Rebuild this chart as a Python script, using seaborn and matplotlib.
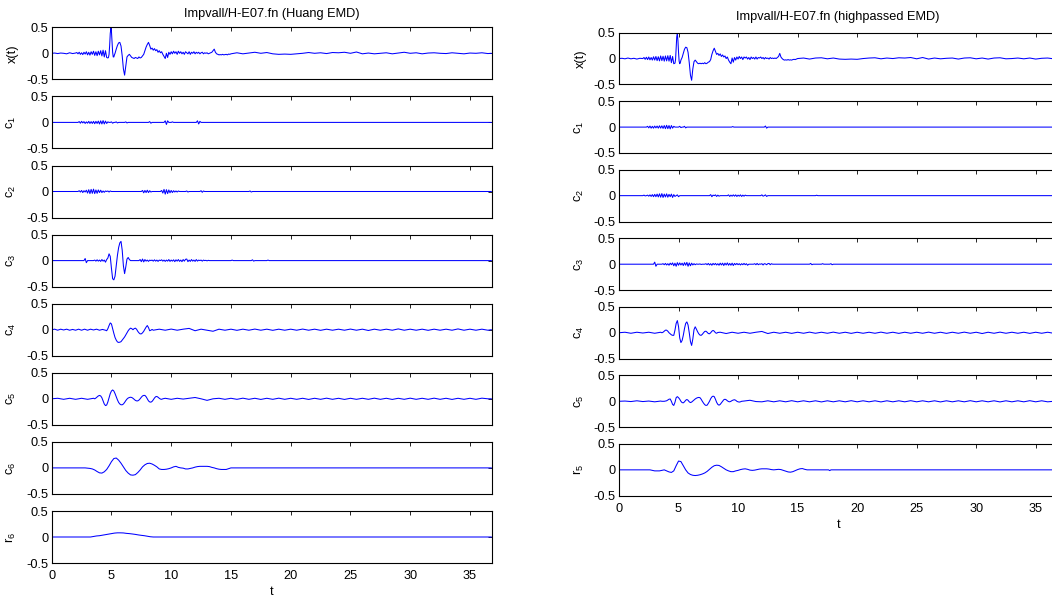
import numpy as np
import matplotlib
matplotlib.use("Agg")
import matplotlib.pyplot as plt
import seaborn as sns

# ---------------- data (time in s, amplitude) ----------------
# each series: list of segments (t_start, dt, values)
T_END = 36.82
x_ticks = [0, 5, 10, 15, 20, 25, 30, 35]
y_ticks = [-0.5, 0, 0.5]
y_ticklabels = ["-0.5", "0", "0.5"]

title_left = "Impvall/H-E07.fn (Huang EMD)"
title_right = "Impvall/H-E07.fn (highpassed EMD)"
labels_left = ["x(t)", "c1", "c2", "c3", "c4", "c5", "c6", "r6"]
labels_right = ["x(t)", "c1", "c2", "c3", "c4", "c5", "r5"]

xt_huang = [
    (0.0, 0.25, [0, 0.005, -0.005, 0.005, 0, -0.01, 0.01, -0.005, 0.005]),
    (2.1, 0.1, [0.015, -0.01, 0.02, -0.02, 0.01, -0.025, 0.02, -0.015, 0.03, -0.03,
                0.02, -0.035, 0.03, -0.02, 0.04, -0.04, 0.03, -0.045, 0.04, -0.03,
                0.05, -0.05, 0.06, -0.07, 0.05, -0.08, -0.09]),
    (4.75, 0.05, [-0.08, -0.02, 0.15, 0.38, 0.48, 0.42, 0.22, 0.02, -0.07, -0.07, -0.03]),
    (5.3, 0.1, [0.0, 0.08, 0.15, 0.2, 0.21, 0.14, -0.05,
                -0.3, -0.42, -0.24, -0.07, -0.04, -0.02, -0.05, -0.08, -0.09, -0.1,
                -0.08, -0.09, -0.1, -0.07, -0.09, -0.08, -0.05, -0.02, 0.05, 0.12,
                0.17, 0.21, 0.15, 0.08, 0.1, 0.06, 0.09, 0.05, 0.07, 0.02,
                0.05, 0.01, 0.03, -0.02, -0.06, -0.1, 0.0, -0.08, 0.02, -0.02,
                0.03, -0.01, 0.04, 0.0, 0.03, -0.02, 0.04, 0.0, 0.03, -0.01,
                0.02, -0.02, 0.03, 0.01, -0.01, 0.03, -0.02, 0.02, 0.0, 0.03,
                -0.01, 0.02, 0.0, 0.02, -0.01, 0.01, 0.02, -0.01, 0.01, 0.0,
                0.01, -0.01, 0.0, 0.01, 0.02, 0.05, 0.08, 0.02, -0.01, -0.02,
                -0.03, -0.025, -0.03, -0.02, -0.03, -0.025, -0.02, -0.03, -0.015, -0.02, -0.01]),
    (15.5, 0.5, [0.01, -0.01, 0.005, 0.02, 0.0, 0.015, -0.01, -0.02, -0.015, -0.02,
                 -0.01, 0.0, 0.015, 0.0, 0.01, -0.005, 0.015, 0.01, 0.02, 0.0,
                 0.025, -0.01, 0.005, -0.01, 0.0, 0.01, -0.01, 0.005, 0.02, 0.0,
                 0.01, -0.01, 0.005, 0.01, 0.0, -0.005, 0.01, 0.0, -0.01, 0.005,
                 0.0, 0.01, -0.005]),
    (36.8, 0.1, [0.0]),
]

c1_huang = [
    (0.0, 2.2, [0, 0]),
    (2.3, 0.1, [0.015, -0.015, 0.02, -0.01, 0.015, -0.02, 0.01, -0.015, 0.02, -0.02,
                0.015, -0.02, 0.02, -0.025, 0.02, -0.02, 0.025, -0.03, 0.03, -0.03,
                0.035, -0.03, 0.025, -0.02, 0.01, 0, 0, 0.01, -0.015, 0,
                0, 0.01, -0.01, 0, 0, 0, 0, 0, 0, 0.01, -0.01, 0]),
    (8.1, 0.1, [0, 0.015, -0.015, 0]),
    (9.4, 0.1, [0, 0.03, -0.04, 0.03, 0]),
    (10.0, 0.1, [0, 0.01, 0]),
    (12.1, 0.1, [0, 0.03, -0.03, 0.02, 0]),
    (36.8, 0.1, [0.0]),
]

c2_huang = [
    (0.0, 2.2, [0, 0]),
    (2.3, 0.1, [0.015, -0.01, 0.02, -0.02, 0.015, -0.01, 0.025, -0.03, 0.035, -0.04,
                0.04, -0.035, 0.045, -0.04, 0.03, -0.035, 0.03, -0.02, 0.025, -0.02,
                0.01, -0.015, 0.01, 0, 0.01, -0.01, 0.01, 0]),
    (7.5, 0.1, [0, 0.02, -0.025, 0.02, -0.02, 0.025, -0.02, 0.015, -0.01, 0]),
    (9.1, 0.1, [0, 0.02, -0.03, 0.04, -0.05, 0.035, -0.04, 0.03, -0.025, 0.02,
                -0.02, 0.015, -0.01, 0.01, -0.01, 0.01, 0]),
    (11.2, 0.1, [0, 0.01, -0.01, 0]),
    (12.4, 0.1, [0, 0.015, -0.015, 0.01, 0]),
    (16.5, 0.1, [0, 0.01, -0.01, 0]),
    (36.8, 0.1, [0.0]),
]

c3_huang = [
    (0.0, 2.7, [0, 0]),
    (2.8, 0.1, [0.04, -0.04, 0.0]),
    (3.5, 0.1, [0, 0.01, -0.01, 0.015, -0.01, 0.01, -0.015, 0.02, -0.01, 0.01,
                -0.03, 0.02, 0.05, 0.13, 0.08, -0.15, -0.35, -0.37, -0.3, -0.1,
                0.1, 0.25, 0.34, 0.37, 0.2, -0.1, -0.25, -0.12, 0.03, 0.06,
                0.02, 0.0]),
    (7.3, 0.1, [0, 0.02, -0.02, 0.03, -0.025, 0.02, -0.01, 0.01, -0.015, 0.01,
                0, 0.01, -0.01, 0.015, -0.01, 0.01, -0.015, 0.01, 0, 0.015,
                -0.01, 0.01, -0.015, 0.01, -0.01, 0.02, -0.015, 0.01, -0.01, 0.015,
                -0.02, 0.015, -0.01, 0.02, -0.015, 0.01, -0.02, 0.02, -0.01, 0.025,
                0.03, -0.02, 0.01, -0.015, 0.02, -0.01, 0.01, -0.015, 0.02, -0.01,
                0.01, 0, 0.01, -0.01, 0.01, 0, 0.005, -0.005, 0.005, 0, 0]),
    (15.0, 0.1, [0, 0.01, 0]),
    (16.7, 0.1, [0, 0.015, -0.01, 0]),
    (18.0, 0.1, [0, 0.01, 0]),
    (36.8, 0.1, [0.0]),
]

c4_huang = [
    (0.0, 0.25, [0, 0.01, -0.01, 0.01, -0.005, 0.01, -0.01, 0.005, -0.01, 0.01,
                 -0.01, 0.01, -0.01, 0.01, -0.005, 0.01, -0.01, 0.005, -0.01]),
    (4.6, 0.1, [-0.02, 0.02, 0.08, 0.13, 0.11, 0.02, -0.07, -0.15, -0.2, -0.235,
                -0.245, -0.24, -0.23, -0.2, -0.17, -0.14, -0.1, -0.06, -0.02, 0.01,
                0.03, 0.02, 0.0, 0.02, 0.03, 0.01, -0.03, -0.06, -0.08, -0.08,
                -0.06, -0.03, 0.01, 0.05, 0.08, 0.04, -0.02, -0.01, 0.005]),
    (8.5, 0.5, [-0.01, 0.01, -0.01, 0.012, -0.01, 0.01, 0.025, -0.02, 0.01, -0.01,
                -0.03, 0.01, -0.01, 0.01, -0.012, 0.01, -0.01, 0.012, -0.01, 0.01,
                -0.012, 0.01, -0.01, 0.01, -0.01, 0.012, -0.01, 0.01, -0.012, 0.01,
                -0.01, 0.01, -0.01, 0.012, -0.01, 0.01, -0.015, 0.01, -0.01, 0.01,
                -0.01, 0.015, -0.01, 0.01, -0.01, 0.01, -0.012, 0.01, -0.01, 0.01,
                -0.01, 0.015, -0.01, 0.01, -0.01, 0.01, -0.01]),
    (36.8, 0.1, [0.0]),
]

c5_huang = [
    (0.0, 0.5, [0, 0.01, -0.01, 0.01, -0.01, 0.01, -0.01, 0.01]),
    (3.6, 0.1, [0.0, 0.015, 0.035, 0.055, 0.065, 0.055, 0.02, -0.04, -0.1, -0.13,
                -0.12, -0.06, 0.02, 0.1, 0.15, 0.17, 0.15, 0.1, 0.04, -0.02,
                -0.07, -0.1, -0.115, -0.115, -0.1, -0.07, -0.035, -0.005, 0.015, 0.025,
                0.03, 0.025, 0.01, -0.01, -0.03, -0.04, -0.04, -0.025, 0.0, 0.03,
                0.055, 0.065, 0.065, 0.04, 0.0, -0.04, -0.06, -0.065, -0.05, -0.02,
                0.015, 0.04, 0.045, 0.03, 0.01, -0.005, -0.01, 0.0]),
    (9.5, 0.5, [0.01, -0.01, 0.01, -0.005, 0.01, 0.025, 0.0, -0.03, 0.0, 0.01,
                -0.01, 0.01, -0.01, 0.012, -0.01, 0.01, -0.012, 0.01, -0.01, 0.012,
                -0.01, 0.01, -0.01, 0.01, -0.012, 0.01, -0.01, 0.012, -0.01, 0.01,
                -0.012, 0.01, -0.01, 0.01, -0.01, 0.012, -0.01, 0.01, -0.012, 0.01,
                -0.01, 0.012, -0.01, 0.01, -0.01, 0.012, -0.01, 0.01, -0.012, 0.01,
                -0.01, 0.01, -0.01, 0.012, 0.0]),
    (36.8, 0.1, [0.0]),
]

c6_huang = [
    (0.0, 2.6, [0, 0]),
    (2.8, 0.2, [0, -0.005, -0.01, -0.02, -0.04, -0.07, -0.095, -0.1, -0.075, -0.03,
                0.04, 0.12, 0.18, 0.19, 0.15, 0.09, 0.02, -0.05, -0.1, -0.135,
                -0.14, -0.13, -0.09, -0.04, 0.02, 0.06, 0.085, 0.09, 0.075, 0.05,
                0.02, -0.02, -0.03, -0.03, -0.025, -0.015, 0.0, 0.02, 0.03, 0.01,
                0.0, -0.005, -0.02, -0.02, -0.01, 0.0, 0.015, 0.025, 0.03, 0.03,
                0.03, 0.03, 0.025, 0.01, 0.0, -0.015, -0.025, -0.03, -0.03, -0.03,
                -0.015, 0.0]),
    (36.8, 0.1, [0.0]),
]

r6_huang = [
    (0.0, 3.0, [0, 0]),
    (3.25, 0.25, [0.0, 0.01, 0.02, 0.025, 0.035, 0.045, 0.055, 0.065, 0.075, 0.08,
                  0.08, 0.078, 0.07, 0.065, 0.058, 0.05, 0.04, 0.032, 0.025, 0.015,
                  0.005, 0.0]),
    (36.8, 0.1, [0.0]),
]

xt_high = [
    (0.0, 0.25, [0, 0.005, -0.005, 0.01, -0.005, 0.005, -0.01, 0.005, 0.0]),
    (2.1, 0.1, [0.02, -0.015, 0.025, -0.02, 0.03, -0.025, 0.02, -0.03, 0.035, -0.03,
                0.04, -0.04, 0.035, -0.045, 0.05, -0.04, 0.045, -0.05, 0.05, -0.045,
                0.055, -0.05, 0.06, -0.08, 0.04, -0.1]),
    (4.7, 0.05, [-0.09, -0.02, 0.2, 0.42, 0.48, 0.35, 0.12, -0.05, -0.1, -0.08, -0.03]),
    (5.3, 0.1, [0.02, 0.1, 0.18, 0.22, 0.21, 0.12, -0.08,
                -0.32, -0.42, -0.2, -0.06, -0.03, -0.06, -0.09, -0.1, -0.09, -0.1,
                -0.09, -0.1, -0.08, -0.1, -0.09, -0.07, -0.06, -0.02, 0.08, 0.15,
                0.2, 0.14, 0.08, 0.1, 0.06, 0.09, 0.04, 0.07, 0.03, 0.05,
                0.0, 0.03, -0.03, -0.07, -0.1, 0.01, -0.07, 0.02, -0.03, 0.03,
                -0.01, 0.04, 0.0, 0.03, -0.02, 0.03, 0.01, 0.03, -0.01, 0.02,
                -0.02, 0.03, 0.0, 0.02, -0.01, 0.03, -0.01, 0.02, 0.01, 0.03,
                0.0, 0.02, -0.01, 0.02, 0.0, 0.01, -0.01, 0.02, 0.0, 0.01,
                0.0, 0.01, 0.0, 0.02, 0.04, 0.1, 0.03, 0.0, -0.02, -0.03,
                -0.025, -0.03, -0.02, -0.03, -0.025, -0.03, -0.02, -0.015, -0.02, -0.01, 0.0]),
    (15.5, 0.5, [0.01, -0.01, 0.01, 0.015, -0.005, 0.01, -0.01, -0.015, -0.01, -0.015,
                 0.0, 0.01, 0.015, -0.005, 0.01, 0.0, 0.015, 0.01, 0.02, -0.005,
                 0.02, -0.01, 0.01, -0.005, 0.005, 0.01, -0.01, 0.01, 0.015, -0.005,
                 0.01, -0.01, 0.01, 0.015, -0.005, 0.0, 0.01, -0.005, 0.01, -0.01,
                 0.005, 0.01, -0.005]),
    (36.8, 0.1, [0.0]),
]

c1_high = [
    (0.0, 2.3, [0, 0]),
    (2.4, 0.1, [0.015, -0.015, 0.02, -0.02, 0.015, -0.02, 0.02, -0.015, 0.02, -0.02,
                0.025, -0.02, 0.025, -0.025, 0.03, -0.03, 0.035, -0.03, 0.03, -0.035,
                0.03, -0.02, 0.015, 0]),
    (5.0, 0.1, [0, 0.015, -0.01, 0]),
    (5.4, 0.1, [0, 0.015, -0.015, 0]),
    (9.45, 0.1, [0, 0.01, 0]),
    (12.2, 0.1, [0, 0.02, -0.02, 0]),
    (36.8, 0.1, [0.0]),
]

c2_high = [
    (0.0, 2.0, [0, 0]),
    (2.1, 0.1, [0.01, -0.005, 0.0, 0.01, -0.01, 0.015, -0.015, 0.02, -0.02, 0.025,
                -0.02, 0.03, -0.025, 0.035, -0.03, 0.04, -0.035, 0.03, -0.025, 0.035,
                -0.03, 0.025, -0.02, 0.03, -0.035, 0.02, -0.015, 0.0, 0.015, -0.02, 0]),
    (7.6, 0.1, [0, 0.02, -0.02, 0.01, 0, 0.015, -0.015, 0.01, -0.01, 0]),
    (9.1, 0.1, [0, 0.015, -0.015, 0.01, -0.01, 0.015, -0.01, 0.015, -0.015, 0.01,
                -0.01, 0.015, -0.015, 0.01, -0.01, 0.01, 0]),
    (11.9, 0.1, [0, 0.015, -0.01, 0, 0.015, -0.015, 0]),
    (16.5, 0.1, [0, 0.008, 0]),
    (36.8, 0.1, [0.0]),
]

c3_high = [
    (0.0, 2.9, [0, 0]),
    (3.0, 0.1, [0.04, -0.04, 0]),
    (3.6, 0.1, [0, 0.01, -0.01, 0.015, -0.015, 0.01, -0.02, 0.02, -0.01, 0.025,
                -0.03, 0.02, -0.04, 0.03, -0.02, 0.025, -0.015, 0.02, -0.025, 0.03,
                -0.02, 0.035, -0.04, 0.025, -0.03, 0.02, -0.015, 0.01, -0.01, 0.005,
                0.0, 0.0, 0.005, -0.005, 0.0, 0.0, 0.0, 0.01, -0.01, 0.015,
                -0.015, 0.01, -0.02, 0.015, -0.01, 0.015, -0.015, 0.01, -0.02, 0.02,
                -0.015, 0.02, -0.025, 0.02, -0.015, 0.025, -0.02, 0.015, -0.02, 0.02,
                -0.025, 0.015, -0.01, 0.015, -0.01, 0.01, -0.015, 0.01, -0.01, 0.015,
                -0.01, 0.01, -0.02, 0]),
    (11.3, 0.1, [0, 0.01, -0.01, 0.015, -0.01, 0.005, 0, 0.01, -0.015, 0.01,
                 0.005, -0.01, 0.01, 0.015, -0.01, 0.01, 0, 0]),
    (16.0, 0.1, [0, 0.015, -0.01, 0]),
    (17.0, 0.1, [0, 0.01, 0]),
    (17.7, 0.1, [0, 0.01, -0.01, 0]),
    (36.8, 0.1, [0.0]),
]

c4_high = [
    (0.0, 0.5, [0, 0.01, -0.01, 0.01, -0.005, 0.01, -0.01, 0.01]),
    (3.6, 0.1, [0.0, 0.01, 0.03, 0.05, 0.05, 0.03, 0.0, -0.02, -0.04, -0.05,
                -0.05, 0.05, 0.18, 0.235, 0.12, -0.1, -0.19, -0.15, -0.05, 0.08,
                0.18, 0.21, 0.15, 0.0, -0.17, -0.245, -0.12, 0.06, 0.115, 0.07,
                0.02, -0.02, -0.045, -0.05, -0.03, 0.0, 0.025, 0.03, 0.01, -0.015,
                -0.02, 0.0, 0.03, 0.045, 0.03, 0.0, -0.01, 0.005]),
    (8.5, 0.5, [0.01, -0.015, 0.01, -0.01, 0.01, -0.01, 0.01, 0.025, -0.015, 0.01,
                -0.01, 0.01, -0.012, 0.01, -0.01, 0.012, -0.01, 0.01, -0.01, 0.012,
                -0.01, 0.01, -0.012, 0.01, -0.01, 0.01, -0.01, 0.012, -0.01, 0.01,
                -0.012, 0.01, -0.01, 0.01, -0.01, 0.012, -0.01, 0.01, -0.012, 0.01,
                -0.01, 0.012, -0.01, 0.01, -0.015, 0.01, -0.01, 0.012, -0.01, 0.01,
                -0.01, 0.01, -0.012, 0.01, -0.01, 0.01, -0.01]),
    (36.8, 0.1, [0.0]),
]

c5_high = [
    (0.0, 0.5, [0, 0.005, -0.005, 0.01, -0.005, 0.005, -0.01, 0.005]),
    (3.6, 0.1, [0, 0.0, 0.0, 0.005, 0.01, 0.025, 0.04, 0.045, 0.0, -0.06,
                -0.08, -0.02, 0.07, 0.09, 0.07, 0.04, 0.0, -0.025, -0.03, -0.01,
                0.02, 0.035, 0.02, -0.01, -0.025, -0.015, 0.005, 0.025, 0.045, 0.06,
                0.07, 0.075, 0.07, 0.04, 0.0, -0.035, -0.065, -0.08, -0.075, -0.04,
                0.0, 0.05, 0.085, 0.1, 0.09, 0.04, -0.02, -0.06, -0.075, -0.06,
                -0.03, 0.0, 0.03, 0.04, 0.03, 0.01, -0.005, -0.01, 0.0, 0.015,
                0.025, 0.03, 0.02, 0.0, -0.01, -0.015, -0.01, 0.0]),
    (10.5, 0.5, [0.005, 0.02, -0.005, -0.01, 0.01, -0.01, 0.01, -0.01, 0.012, -0.01,
                 0.01, -0.01, 0.01, -0.012, 0.01, -0.01, 0.01, -0.01, 0.012, -0.01,
                 0.01, -0.01, 0.01, -0.012, 0.01, -0.01, 0.01, -0.01, 0.012, -0.01,
                 0.01, -0.01, 0.01, -0.012, 0.01, -0.01, 0.01, -0.01, 0.012, -0.01,
                 0.01, -0.01, 0.01, -0.012, 0.01, -0.01, 0.01, -0.01, 0.012, -0.01,
                 0.01, -0.01, 0.0]),
    (36.8, 0.1, [0.0]),
]

r5_high = [
    (0.0, 2.6, [0, 0]),
    (2.8, 0.2, [-0.01, -0.02, -0.02, -0.02, -0.01, 0.0, -0.02, -0.04, -0.05, -0.02,
                0.08, 0.17, 0.16, 0.08, 0.0, -0.06, -0.09, -0.105, -0.11, -0.105,
                -0.095, -0.08, -0.06, -0.03, 0.01, 0.05, 0.08, 0.09, 0.085, 0.06,
                0.03, 0.0, -0.02, -0.035, -0.035, -0.02, -0.01, 0.005, 0.015, 0.02,
                0.01, -0.005, -0.01, -0.005, 0.005, 0.015, 0.02, 0.02, 0.02, 0.015,
                0.005, 0.0, 0.005, 0.01, 0.005, -0.01, -0.025, -0.04, -0.045, -0.035,
                -0.015, 0.005, 0.02, 0.025, 0.01, 0.0]),
    (17.6, 0.1, [0, -0.015, 0]),
    (36.8, 0.1, [0.0]),
]

left_series = [xt_huang, c1_huang, c2_huang, c3_huang, c4_huang, c5_huang, c6_huang, r6_huang]
right_series = [xt_high, c1_high, c2_high, c3_high, c4_high, c5_high, r5_high]


def build(segs):
    ts, vs = [], []
    for t0, dt, vals in segs:
        for i, v in enumerate(vals):
            ts.append(t0 + dt * i)
            vs.append(v)
    ts = np.array(ts)
    vs = np.array(vs, dtype=float)
    order = np.argsort(ts, kind="stable")
    return ts[order], vs[order]


def fmt_label(s):
    if s[0] in "cr" and s[1:].isdigit():
        return s[0] + r"$_{\mathregular{" + s[1:] + "}}$"
    return s


# ---------------- style ----------------
sns.set_theme(style="white")
plt.rcParams.update({
    "font.family": ["Liberation Sans", "DejaVu Sans"],
    "mathtext.fontset": "custom",
    "mathtext.rm": "Liberation Sans",
    "mathtext.it": "Liberation Sans:italic",
    "axes.unicode_minus": False,
    "axes.edgecolor": "black",
    "axes.labelcolor": "black",
    "text.color": "black",
    "xtick.color": "black",
    "ytick.color": "black",
})

W, H = 1052.0, 600.0
fig = plt.figure(figsize=(W / 100, H / 100), dpi=100)
fig.patch.set_facecolor("white")


def add_ax(x0, top, w, h):
    return fig.add_axes([x0 / W, 1 - (top + h) / H, w / W, h / H])


def style_ax(ax, label, bottom, labelpad):
    ax.set_xlim(0, T_END)
    ax.set_ylim(-0.5, 0.5)
    ax.set_xticks(x_ticks)
    ax.set_yticks(y_ticks)
    ax.set_yticklabels(y_ticklabels)
    ax.tick_params(direction="in", top=True, right=True, length=3, width=0.6,
                   labelsize=9.2, pad=2.5)
    ax.tick_params(axis="x", pad=5)
    if not bottom:
        ax.set_xticklabels([])
        ax.set_xlabel("")
    else:
        ax.set_xticklabels([str(v) for v in x_ticks])
        ax.set_xlabel("t", fontsize=9.2, labelpad=3)
    ax.set_ylabel(fmt_label(label), fontsize=9.2, labelpad=labelpad)
    for sp in ax.spines.values():
        sp.set_linewidth(0.8)
        sp.set_color("black")
    ax.grid(False)


def draw_column(series, labels, x0, top0, step, w, h, title, title_pad, labelpad):
    n = len(series)
    for k, (segs, lab) in enumerate(zip(series, labels)):
        ax = add_ax(x0, top0 + step * k, w, h)
        t, v = build(segs)
        sns.lineplot(x=t, y=v, ax=ax, color="#0000ff", linewidth=0.75,
                     estimator=None, sort=False, legend=False)
        style_ax(ax, lab, k == n - 1, labelpad)
        if k == 0:
            ax.set_title(title, fontsize=9.2, pad=title_pad)


draw_column(left_series, labels_left, 51.7, 27.3, 69.1, 440.0, 52.0,
            title_left, 7.5, 5.5)
draw_column(right_series, labels_right, 619.0, 32.7, 68.55, 438.4, 51.7,
            title_right, 9, 5)

fig.savefig("out.png", dpi=100, facecolor="white")
